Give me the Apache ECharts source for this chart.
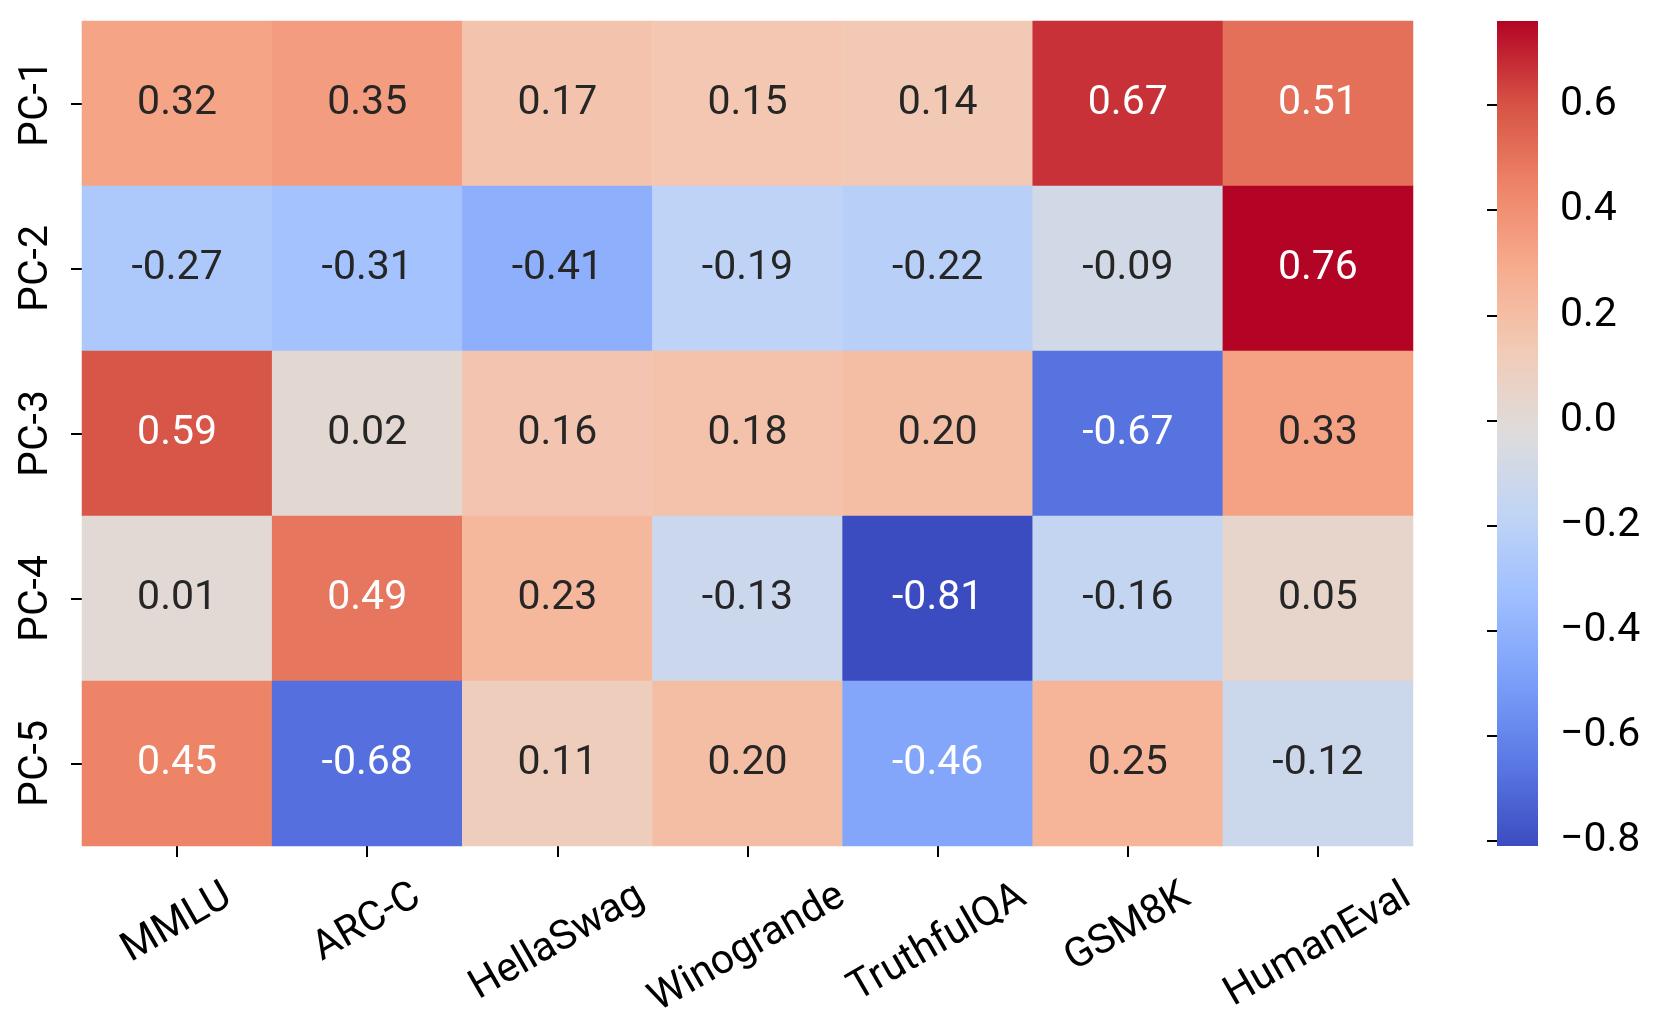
<!DOCTYPE html>
<html>
<head>
<meta charset="utf-8">
<script src="https://cdn.jsdelivr.net/npm/echarts@6/dist/echarts.min.js"></script>
<style>
html,body{margin:0;padding:0;background:#fff;}
#chart{width:1662px;height:1036px;}
</style>
</head>
<body>
<div id="chart"></div>
<script>
const xCats = ['MMLU','ARC-C','HellaSwag','Winogrande','TruthfulQA','GSM8K','HumanEval'];
const yCats = ['PC-1','PC-2','PC-3','PC-4','PC-5'];
const pc1 = [0.32, 0.35, 0.17, 0.15, 0.14, 0.67, 0.51];
const pc2 = [-0.27, -0.31, -0.41, -0.19, -0.22, -0.09, 0.76];
const pc3 = [0.59, 0.02, 0.16, 0.18, 0.20, -0.67, 0.33];
const pc4 = [0.01, 0.49, 0.23, -0.13, -0.81, -0.16, 0.05];
const pc5 = [0.45, -0.68, 0.11, 0.20, -0.46, 0.25, -0.12];
const rows = [pc1, pc2, pc3, pc4, pc5];
const cbTicks = [-0.8, -0.6, -0.4, -0.2, 0.0, 0.2, 0.4, 0.6];
const vMin = -0.81, vMax = 0.76;
const coolwarm = ['#3b4cc0','#5a78e4','#7b9ff9','#9ebeff','#c0d4f5','#dddcdc','#f2cbb7','#f7ac8e','#ee8468','#d65244','#b40426'];

const FONT = 'Roboto';
const FS = 41;

const data = [];
rows.forEach((r, yi) => r.forEach((v, xi) => {
  const white = v > 0.4 || v < -0.43;
  data.push({value: [xi, yi, v], label: {color: white ? '#ffffff' : '#262626'}});
}));

const chart = echarts.init(document.getElementById('chart'), null, {renderer: 'canvas'});
const G = {left: 82, top: 21, width: 1331, height: 825};
const CB = {left: 1497, top: 21, width: 41, height: 825};

const gradStops = coolwarm.map((c, i) => ({offset: i / (coolwarm.length - 1), color: c}));

chart.setOption({
  backgroundColor: '#fff',
  animation: false,
  grid: [
    {left: G.left, top: G.top, width: G.width, height: G.height},
    {left: CB.left, top: CB.top, width: CB.width, height: CB.height, show: true, borderWidth: 0,
     backgroundColor: new echarts.graphic.LinearGradient(0, 1, 0, 0, gradStops)}
  ],
  xAxis: [
    {type: 'category', gridIndex: 0, data: xCats,
     axisLine: {show: false}, splitLine: {show: false}, splitArea: {show: false},
     axisTick: {show: true, alignWithLabel: true, length: 11, lineStyle: {color: '#000', width: 2}},
     axisLabel: {show: false}},
    {type: 'value', gridIndex: 1, show: false, min: 0, max: 1}
  ],
  yAxis: [
    {type: 'category', gridIndex: 0, data: yCats, inverse: true,
     axisLine: {show: false}, splitLine: {show: false}, splitArea: {show: false},
     axisTick: {show: true, alignWithLabel: true, length: 11, lineStyle: {color: '#000', width: 2}},
     axisLabel: {rotate: 90, margin: 25, fontFamily: FONT, fontSize: FS, color: '#000'}},
    {type: 'value', gridIndex: 1, position: 'right', min: vMin, max: vMax,
     axisLine: {show: false}, splitLine: {show: false},
     axisTick: {show: true, inside: true, customValues: cbTicks, length: 10, lineStyle: {color: '#000', width: 2}},
     axisLabel: {customValues: cbTicks, margin: 22, fontFamily: FONT, fontSize: FS, color: '#000',
       formatter: v => { const s = Math.abs(v).toFixed(1); return (v < -1e-9 ? '\u2212' : '') + s; }}}
  ],
  visualMap: {show: false, type: 'continuous', min: vMin, max: vMax, dimension: 2, seriesIndex: 0,
    inRange: {color: coolwarm}},
  series: [{
    type: 'heatmap', xAxisIndex: 0, yAxisIndex: 0, data: data,
    itemStyle: {borderWidth: 0},
    label: {show: true, fontFamily: FONT, fontSize: FS, formatter: p => p.value[2].toFixed(2)},
    emphasis: {disabled: true}
  }]
});

const ctx = document.createElement('canvas').getContext('2d');
ctx.font = FS + 'px ' + FONT;
const ang = 30 * Math.PI / 180;
const labelTop = G.top + G.height + 27;
const gfx = xCats.map((name, i) => {
  const px = chart.convertToPixel({xAxisIndex: 0}, i);
  const w = ctx.measureText(name).width;
  const h = FS * 1.17;
  const bh = w * Math.sin(ang) + h * Math.cos(ang);
  return {type: 'text', x: px, y: labelTop + bh / 2, rotation: ang, silent: true,
    style: {text: name, fontFamily: FONT, fontSize: FS, fill: '#000', align: 'center', verticalAlign: 'middle'}};
});
chart.setOption({graphic: gfx});
</script>
</body>
</html>
